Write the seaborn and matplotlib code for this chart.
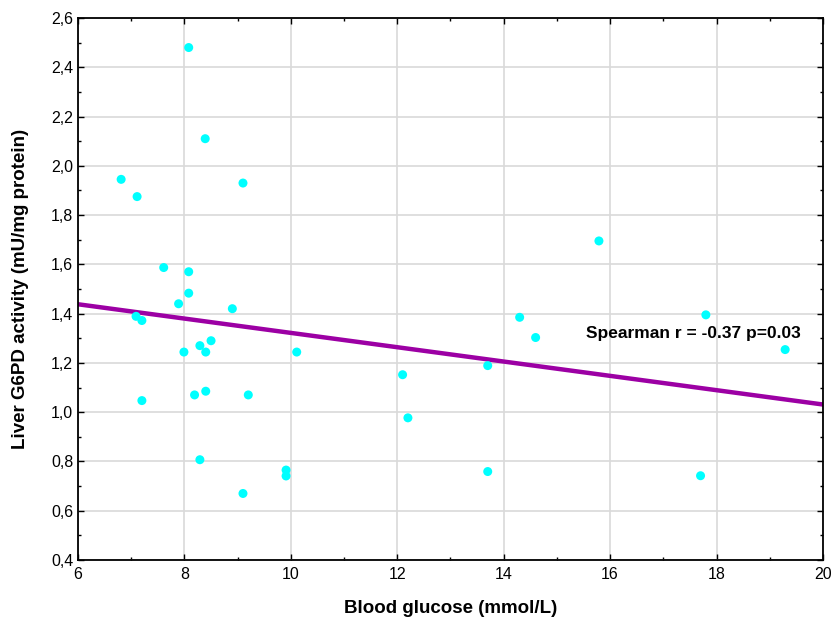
import numpy as np
import pandas as pd

import matplotlib
matplotlib.use("Agg")
import matplotlib.pyplot as plt
from matplotlib.ticker import MultipleLocator, FuncFormatter
import seaborn as sns


glucose = [
    8.08, 8.39, 6.81, 7.11, 9.10, 7.61, 8.08, 8.08,
    7.89, 8.90, 7.09, 7.20, 8.50, 8.29, 7.99, 8.40, 10.11,
    8.40, 8.19, 9.20, 7.20, 8.29, 9.91, 9.91, 9.10,
    15.79, 14.30, 14.60, 17.80, 19.29, 12.10, 13.70, 12.20, 13.70, 17.70,
]
g6pd = [
    2.48, 2.11, 1.945, 1.875, 1.93, 1.587, 1.57, 1.483,
    1.44, 1.42, 1.389, 1.372, 1.29, 1.27, 1.244, 1.244, 1.244,
    1.085, 1.07, 1.07, 1.047, 0.807, 0.765, 0.741, 0.67,
    1.695, 1.385, 1.303, 1.395, 1.254, 1.152, 1.189, 0.977, 0.759, 0.742,
]
annotation = "Spearman r = -0.37 p=0.03"

df = pd.DataFrame({"glucose": glucose, "g6pd": g6pd})

sns.set_theme(style="whitegrid")
plt.rcParams["font.family"] = ["Liberation Sans", "DejaVu Sans"]

fig = plt.figure(figsize=(8.32, 6.22), dpi=100)
ax = fig.add_axes([0.0938, 0.0997, 0.8953, 0.8714])

# set limits first so the fitted line spans the whole axis
ax.set_xlim(6, 20)
ax.set_ylim(0.4, 2.6)

sns.regplot(
    data=df, x="glucose", y="g6pd", ax=ax, ci=None, truncate=False,
    scatter_kws={"s": 42, "color": "#00FFFF", "edgecolor": "none", "alpha": 1, "zorder": 3},
    line_kws={"color": "#9C00A4", "lw": 3.2, "zorder": 2},
)
ax.set_xlim(6, 20)
ax.set_ylim(0.4, 2.6)

ax.xaxis.set_major_locator(MultipleLocator(2))
ax.xaxis.set_minor_locator(MultipleLocator(1))
ax.yaxis.set_major_locator(MultipleLocator(0.2))
ax.yaxis.set_minor_locator(MultipleLocator(0.1))
ax.yaxis.set_major_formatter(FuncFormatter(lambda v, p: f"{v:.1f}".replace(".", ",")))

ax.set_facecolor("white")
ax.grid(True, which="major", color="#d9d9d9", lw=1.2)
for s in ax.spines.values():
    s.set_color("black")
    s.set_linewidth(1.3)
ax.tick_params(which="both", direction="in", top=True, right=True, bottom=True, left=True,
               color="black", labelsize=11.5, labelcolor="black")
ax.tick_params(which="major", length=4, width=1)
ax.tick_params(which="minor", length=2.5, width=1)
ax.tick_params(axis="x", pad=5)

ax.set_xlabel("Blood glucose (mmol/L)", fontsize=13.5, fontweight="bold", labelpad=13, color="black")
ax.set_ylabel("Liver G6PD activity (mU/mg protein)", fontsize=13.5, fontweight="bold", labelpad=16, color="black")

ax.text(15.55, 1.32, annotation, fontsize=12.5, fontweight="bold", va="center", ha="left", color="black")

fig.savefig("out.png", dpi=100)
